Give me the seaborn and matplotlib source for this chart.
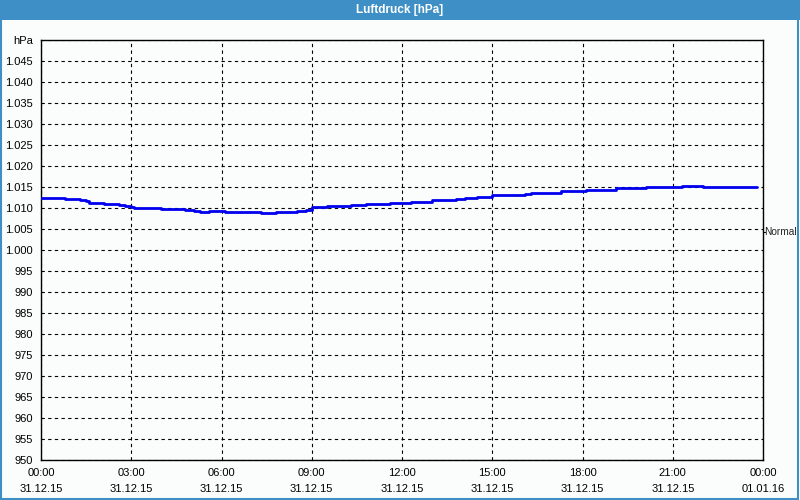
import numpy as np
import pandas as pd
import matplotlib
matplotlib.use("Agg")
import matplotlib.pyplot as plt
import seaborn as sns
from matplotlib.patches import Rectangle
from matplotlib.ticker import FixedLocator, MultipleLocator, FuncFormatter

# Luftdruck values (hours after 31.12.15 00:00, hPa)
hours = [0.0, 0.8, 1.3, 1.5, 1.6, 2.1, 2.6, 2.8, 3.0, 3.1, 4.0, 4.8, 5.1, 5.3,
         5.6, 6.1, 7.3, 7.8, 8.5, 8.8, 9.0, 9.5, 10.3, 10.8, 11.6, 12.3, 13.0,
         13.3, 13.8, 14.1, 14.5, 15.0, 15.3, 16.1, 16.3, 17.3, 18.1, 18.6,
         19.1, 20.1, 21.3, 22.0, 22.8, 23.8]
pressure = [1012.5, 1012.2, 1011.9, 1011.6, 1011.3, 1011.0, 1010.8, 1010.5,
            1010.3, 1010.1, 1009.8, 1009.6, 1009.4, 1009.1, 1009.4, 1009.1,
            1008.9, 1009.0, 1009.3, 1009.6, 1010.2, 1010.5, 1010.8, 1011.0,
            1011.3, 1011.5, 1011.8, 1012.0, 1012.2, 1012.5, 1012.7, 1013.0,
            1013.2, 1013.4, 1013.6, 1014.0, 1014.2, 1014.4, 1014.7, 1014.9,
            1015.2, 1014.9, 1015.1, 1015.1]
x_tick_hours = [0, 3, 6, 9, 12, 15, 18, 21, 24]
x_tick_labels = ["00:00\n31.12.15", "03:00\n31.12.15", "06:00\n31.12.15",
                 "09:00\n31.12.15", "12:00\n31.12.15", "15:00\n31.12.15",
                 "18:00\n31.12.15", "21:00\n31.12.15", "00:00\n01.01.16"]
normal_level = 1004.3

df = pd.DataFrame({"hour": hours, "hPa": pressure})

sns.set_style("white")
plt.rcParams["font.family"] = ["Liberation Sans", "DejaVu Sans"]

bg = "#fafdfb"
blue_head = "#3d8fc6"
fs = 8

fig = plt.figure(figsize=(8, 5), dpi=100, facecolor=bg)

# header bar + frame
fig.patches.append(Rectangle((0, 0.96), 1, 0.04, transform=fig.transFigure,
                             facecolor=blue_head, edgecolor="none", zorder=0))
fig.patches.append(Rectangle((0.001, 0.002), 0.997, 0.996, transform=fig.transFigure,
                             facecolor="none", edgecolor=blue_head, linewidth=1.5, zorder=5))
fig.text(0.5, 0.979, "Luftdruck [hPa]", color="white", fontsize=8.5,
         fontweight="bold", ha="center", va="center")

ax = fig.add_axes([41 / 800, 40 / 500, 722 / 800, 420 / 500])
ax.set_facecolor(bg)

sns.lineplot(data=df, x="hour", y="hPa", ax=ax, color="#0000ee",
             linewidth=2, drawstyle="steps-post", zorder=3)

ax.set_xlim(0, 24)
ax.set_ylim(950, 1050)

# y axis
ax.yaxis.set_major_locator(MultipleLocator(5))
def ylab(v, pos):
    v = int(round(v))
    if v == 1050:
        return "hPa"
    if v >= 1000:
        return "1.%03d" % (v - 1000)
    return str(v)
ax.yaxis.set_major_formatter(FuncFormatter(ylab))

# x axis
ax.xaxis.set_major_locator(FixedLocator(x_tick_hours))
ax.set_xticklabels(x_tick_labels, linespacing=1.7)
ax.xaxis.set_minor_locator(MultipleLocator(1))

ax.tick_params(axis="both", which="major", labelsize=fs, length=3, width=0.8,
               color="black", labelcolor="black", direction="out", pad=3)
ax.tick_params(axis="x", which="minor", length=3, width=0.8, direction="out")

ax.grid(True, which="major", color="black", linestyle=(0, (3, 3)), linewidth=0.8)
for s in ax.spines.values():
    s.set_color("black")
    s.set_linewidth(1.0)

ax.set_xlabel("")
ax.set_ylabel("")

# Normal marker on right axis
ax.plot([24, 24.06], [normal_level, normal_level], color="black", lw=0.8,
        clip_on=False)
ax.text(24.03, normal_level, "Normal", fontsize=7.3, ha="left", va="center")

fig.savefig("out.png", dpi=100, facecolor=bg)
